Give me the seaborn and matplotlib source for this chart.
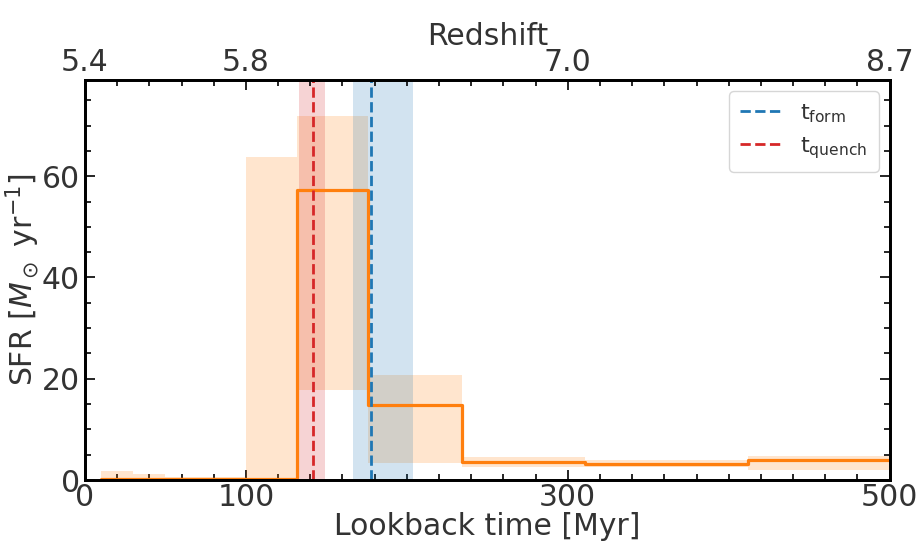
import numpy as np
import seaborn as sns
import matplotlib.pyplot as plt
from matplotlib.ticker import MultipleLocator

# lookback time bin edges [Myr] and SFR per bin
edges = [10, 30, 50, 100, 132, 176, 234, 311, 412, 500]
sfr = [0.3, 0.3, 0.3, 0.3, 57.2, 14.9, 3.6, 3.2, 3.9]
sfr_lo = [0.0, 0.0, 0.0, 0.0, 17.8, 3.4, 2.6, 2.5, 2.0]
sfr_hi = [1.8, 1.2, 0.6, 63.8, 71.9, 20.8, 4.5, 3.9, 4.8]

t_form = 178
t_form_range = [166.5, 203.7]
t_quench = 141.6
t_quench_range = [133, 149]

z_ticks = [0, 100, 300, 500]
z_labels = ["5.4", "5.8", "7.0", "8.7"]

sns.set_style("ticks")
plt.rcParams["font.family"] = ["DejaVu Sans"]
plt.rcParams["text.color"] = "#333333"
plt.rcParams["axes.labelcolor"] = "#333333"
plt.rcParams["xtick.color"] = "black"
plt.rcParams["ytick.color"] = "black"
plt.rcParams["xtick.labelcolor"] = "#333333"
plt.rcParams["ytick.labelcolor"] = "#333333"

fs = 21.5

fig = plt.figure(figsize=(9.2, 5.52), dpi=100)
ax = fig.add_axes([0.0924, 0.1304, 0.8746, 0.7246])

orange = "#ff7f0e"
ax.fill_between(edges, sfr_lo + [sfr_lo[-1]], sfr_hi + [sfr_hi[-1]],
                step="post", color=orange, alpha=0.2, lw=0)

ax.axvspan(*t_quench_range, color="#d62728", alpha=0.2, lw=0)
ax.axvspan(*t_form_range, color="#1f77b4", alpha=0.2, lw=0)

sns.lineplot(x=edges, y=sfr + [sfr[-1]], drawstyle="steps-post",
             color=orange, lw=2.3, ax=ax)

ax.axvline(t_form, color="#1f77b4", ls="--", lw=2, label=r"t$_{\rm form}$")
ax.axvline(t_quench, color="#d62728", ls="--", lw=2, label=r"t$_{\rm quench}$")

ax.set_xlim(0, 500)
ax.set_ylim(0, 79)
ax.set_xticks(z_ticks)
ax.xaxis.set_minor_locator(MultipleLocator(20))
ax.yaxis.set_major_locator(MultipleLocator(20))
ax.yaxis.set_minor_locator(MultipleLocator(5))
ax.tick_params(which="both", direction="in", right=True, top=False,
               labelsize=fs, width=1.2)
ax.tick_params(which="major", length=7)
ax.tick_params(which="minor", length=4)
ax.tick_params(axis="x", pad=2)
ax.set_xlabel("Lookback time [Myr]", fontsize=fs, labelpad=0)
ax.set_ylabel(r"SFR [$M_\odot$ yr$^{-1}$]", fontsize=fs, labelpad=0)

ax2 = ax.twiny()
ax2.set_xlim(ax.get_xlim())
ax2.set_xticks(z_ticks)
ax2.set_xticklabels(z_labels)
ax2.xaxis.set_minor_locator(MultipleLocator(20))
ax2.tick_params(which="both", direction="in", labelsize=fs, width=1.2, pad=2)
ax2.tick_params(which="major", length=7)
ax2.tick_params(which="minor", length=4)
ax2.set_xlabel("Redshift", fontsize=fs, labelpad=2)

for a in (ax, ax2):
    for s in a.spines.values():
        s.set_linewidth(2)
        s.set_color("black")

ax.legend(loc="upper right", fontsize=16, handlelength=1.9, borderpad=0.5,
          labelspacing=0.45, frameon=True, edgecolor="#cccccc")

fig.savefig("out.png", dpi=100)
